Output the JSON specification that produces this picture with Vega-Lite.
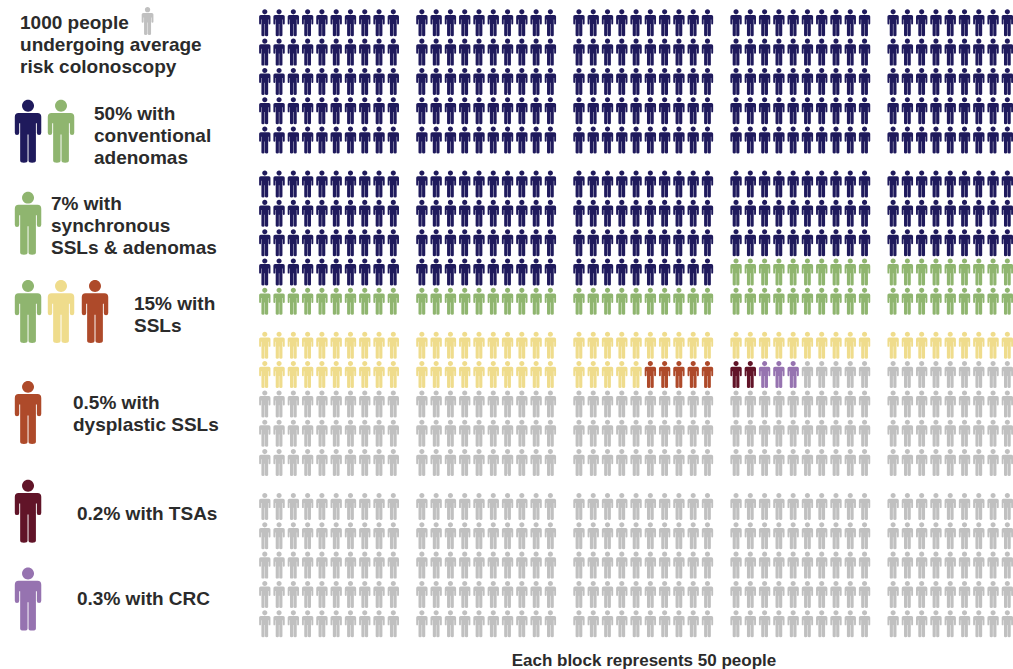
{"$schema":"https://vega.github.io/schema/vega-lite/v6.json","width":1013,"height":669,"autosize":{"type":"fit","contains":"padding"},"padding":0,"background":"#ffffff","config":{"view":{"stroke":null},"point":{"filled":true,"opacity":1,"strokeWidth":0,"shape":"M0 -1A0.19 0.19 0 1 1 0 -0.62A0.19 0.19 0 1 1 0 -1ZM-0.3 -0.58L0.3 -0.58Q0.42 -0.58 0.42 -0.46L0.42 0.05Q0.42 0.12 0.35 0.12Q0.28 0.12 0.28 0.05L0.28 -0.25L0.25 -0.25L0.25 0.93Q0.25 1 0.13 1Q0.015 1 0.015 0.93L0.015 0.1L-0.015 0.1L-0.015 0.93Q-0.015 1 -0.13 1Q-0.25 1 -0.25 0.93L-0.25 -0.25L-0.28 -0.25L-0.28 0.05Q-0.28 0.12 -0.35 0.12Q-0.42 0.12 -0.42 0.05L-0.42 -0.46Q-0.42 -0.58 -0.3 -0.58Z"}},"layer":[{"data":{"values":[
{"x":0,"y":0,"g":"adenoma"},{"x":1,"y":0,"g":"adenoma"},{"x":2,"y":0,"g":"adenoma"},{"x":3,"y":0,"g":"adenoma"},{"x":4,"y":0,"g":"adenoma"},{"x":5,"y":0,"g":"adenoma"},{"x":6,"y":0,"g":"adenoma"},{"x":7,"y":0,"g":"adenoma"},{"x":8,"y":0,"g":"adenoma"},{"x":9,"y":0,"g":"adenoma"},{"x":11,"y":0,"g":"adenoma"},{"x":12,"y":0,"g":"adenoma"},{"x":13,"y":0,"g":"adenoma"},{"x":14,"y":0,"g":"adenoma"},{"x":15,"y":0,"g":"adenoma"},{"x":16,"y":0,"g":"adenoma"},{"x":17,"y":0,"g":"adenoma"},{"x":18,"y":0,"g":"adenoma"},{"x":19,"y":0,"g":"adenoma"},{"x":20,"y":0,"g":"adenoma"},{"x":22,"y":0,"g":"adenoma"},{"x":23,"y":0,"g":"adenoma"},{"x":24,"y":0,"g":"adenoma"},{"x":25,"y":0,"g":"adenoma"},{"x":26,"y":0,"g":"adenoma"},{"x":27,"y":0,"g":"adenoma"},{"x":28,"y":0,"g":"adenoma"},{"x":29,"y":0,"g":"adenoma"},{"x":30,"y":0,"g":"adenoma"},{"x":31,"y":0,"g":"adenoma"},{"x":33,"y":0,"g":"adenoma"},{"x":34,"y":0,"g":"adenoma"},{"x":35,"y":0,"g":"adenoma"},{"x":36,"y":0,"g":"adenoma"},{"x":37,"y":0,"g":"adenoma"},{"x":38,"y":0,"g":"adenoma"},{"x":39,"y":0,"g":"adenoma"},{"x":40,"y":0,"g":"adenoma"},{"x":41,"y":0,"g":"adenoma"},{"x":42,"y":0,"g":"adenoma"},{"x":44,"y":0,"g":"adenoma"},{"x":45,"y":0,"g":"adenoma"},{"x":46,"y":0,"g":"adenoma"},{"x":47,"y":0,"g":"adenoma"},{"x":48,"y":0,"g":"adenoma"},{"x":49,"y":0,"g":"adenoma"},{"x":50,"y":0,"g":"adenoma"},{"x":51,"y":0,"g":"adenoma"},{"x":52,"y":0,"g":"adenoma"},{"x":53,"y":0,"g":"adenoma"},
{"x":0,"y":2,"g":"adenoma"},{"x":1,"y":2,"g":"adenoma"},{"x":2,"y":2,"g":"adenoma"},{"x":3,"y":2,"g":"adenoma"},{"x":4,"y":2,"g":"adenoma"},{"x":5,"y":2,"g":"adenoma"},{"x":6,"y":2,"g":"adenoma"},{"x":7,"y":2,"g":"adenoma"},{"x":8,"y":2,"g":"adenoma"},{"x":9,"y":2,"g":"adenoma"},{"x":11,"y":2,"g":"adenoma"},{"x":12,"y":2,"g":"adenoma"},{"x":13,"y":2,"g":"adenoma"},{"x":14,"y":2,"g":"adenoma"},{"x":15,"y":2,"g":"adenoma"},{"x":16,"y":2,"g":"adenoma"},{"x":17,"y":2,"g":"adenoma"},{"x":18,"y":2,"g":"adenoma"},{"x":19,"y":2,"g":"adenoma"},{"x":20,"y":2,"g":"adenoma"},{"x":22,"y":2,"g":"adenoma"},{"x":23,"y":2,"g":"adenoma"},{"x":24,"y":2,"g":"adenoma"},{"x":25,"y":2,"g":"adenoma"},{"x":26,"y":2,"g":"adenoma"},{"x":27,"y":2,"g":"adenoma"},{"x":28,"y":2,"g":"adenoma"},{"x":29,"y":2,"g":"adenoma"},{"x":30,"y":2,"g":"adenoma"},{"x":31,"y":2,"g":"adenoma"},{"x":33,"y":2,"g":"adenoma"},{"x":34,"y":2,"g":"adenoma"},{"x":35,"y":2,"g":"adenoma"},{"x":36,"y":2,"g":"adenoma"},{"x":37,"y":2,"g":"adenoma"},{"x":38,"y":2,"g":"adenoma"},{"x":39,"y":2,"g":"adenoma"},{"x":40,"y":2,"g":"adenoma"},{"x":41,"y":2,"g":"adenoma"},{"x":42,"y":2,"g":"adenoma"},{"x":44,"y":2,"g":"adenoma"},{"x":45,"y":2,"g":"adenoma"},{"x":46,"y":2,"g":"adenoma"},{"x":47,"y":2,"g":"adenoma"},{"x":48,"y":2,"g":"adenoma"},{"x":49,"y":2,"g":"adenoma"},{"x":50,"y":2,"g":"adenoma"},{"x":51,"y":2,"g":"adenoma"},{"x":52,"y":2,"g":"adenoma"},{"x":53,"y":2,"g":"adenoma"},
{"x":0,"y":4,"g":"adenoma"},{"x":1,"y":4,"g":"adenoma"},{"x":2,"y":4,"g":"adenoma"},{"x":3,"y":4,"g":"adenoma"},{"x":4,"y":4,"g":"adenoma"},{"x":5,"y":4,"g":"adenoma"},{"x":6,"y":4,"g":"adenoma"},{"x":7,"y":4,"g":"adenoma"},{"x":8,"y":4,"g":"adenoma"},{"x":9,"y":4,"g":"adenoma"},{"x":11,"y":4,"g":"adenoma"},{"x":12,"y":4,"g":"adenoma"},{"x":13,"y":4,"g":"adenoma"},{"x":14,"y":4,"g":"adenoma"},{"x":15,"y":4,"g":"adenoma"},{"x":16,"y":4,"g":"adenoma"},{"x":17,"y":4,"g":"adenoma"},{"x":18,"y":4,"g":"adenoma"},{"x":19,"y":4,"g":"adenoma"},{"x":20,"y":4,"g":"adenoma"},{"x":22,"y":4,"g":"adenoma"},{"x":23,"y":4,"g":"adenoma"},{"x":24,"y":4,"g":"adenoma"},{"x":25,"y":4,"g":"adenoma"},{"x":26,"y":4,"g":"adenoma"},{"x":27,"y":4,"g":"adenoma"},{"x":28,"y":4,"g":"adenoma"},{"x":29,"y":4,"g":"adenoma"},{"x":30,"y":4,"g":"adenoma"},{"x":31,"y":4,"g":"adenoma"},{"x":33,"y":4,"g":"adenoma"},{"x":34,"y":4,"g":"adenoma"},{"x":35,"y":4,"g":"adenoma"},{"x":36,"y":4,"g":"adenoma"},{"x":37,"y":4,"g":"adenoma"},{"x":38,"y":4,"g":"adenoma"},{"x":39,"y":4,"g":"adenoma"},{"x":40,"y":4,"g":"adenoma"},{"x":41,"y":4,"g":"adenoma"},{"x":42,"y":4,"g":"adenoma"},{"x":44,"y":4,"g":"adenoma"},{"x":45,"y":4,"g":"adenoma"},{"x":46,"y":4,"g":"adenoma"},{"x":47,"y":4,"g":"adenoma"},{"x":48,"y":4,"g":"adenoma"},{"x":49,"y":4,"g":"adenoma"},{"x":50,"y":4,"g":"adenoma"},{"x":51,"y":4,"g":"adenoma"},{"x":52,"y":4,"g":"adenoma"},{"x":53,"y":4,"g":"adenoma"},
{"x":0,"y":6,"g":"adenoma"},{"x":1,"y":6,"g":"adenoma"},{"x":2,"y":6,"g":"adenoma"},{"x":3,"y":6,"g":"adenoma"},{"x":4,"y":6,"g":"adenoma"},{"x":5,"y":6,"g":"adenoma"},{"x":6,"y":6,"g":"adenoma"},{"x":7,"y":6,"g":"adenoma"},{"x":8,"y":6,"g":"adenoma"},{"x":9,"y":6,"g":"adenoma"},{"x":11,"y":6,"g":"adenoma"},{"x":12,"y":6,"g":"adenoma"},{"x":13,"y":6,"g":"adenoma"},{"x":14,"y":6,"g":"adenoma"},{"x":15,"y":6,"g":"adenoma"},{"x":16,"y":6,"g":"adenoma"},{"x":17,"y":6,"g":"adenoma"},{"x":18,"y":6,"g":"adenoma"},{"x":19,"y":6,"g":"adenoma"},{"x":20,"y":6,"g":"adenoma"},{"x":22,"y":6,"g":"adenoma"},{"x":23,"y":6,"g":"adenoma"},{"x":24,"y":6,"g":"adenoma"},{"x":25,"y":6,"g":"adenoma"},{"x":26,"y":6,"g":"adenoma"},{"x":27,"y":6,"g":"adenoma"},{"x":28,"y":6,"g":"adenoma"},{"x":29,"y":6,"g":"adenoma"},{"x":30,"y":6,"g":"adenoma"},{"x":31,"y":6,"g":"adenoma"},{"x":33,"y":6,"g":"adenoma"},{"x":34,"y":6,"g":"adenoma"},{"x":35,"y":6,"g":"adenoma"},{"x":36,"y":6,"g":"adenoma"},{"x":37,"y":6,"g":"adenoma"},{"x":38,"y":6,"g":"adenoma"},{"x":39,"y":6,"g":"adenoma"},{"x":40,"y":6,"g":"adenoma"},{"x":41,"y":6,"g":"adenoma"},{"x":42,"y":6,"g":"adenoma"},{"x":44,"y":6,"g":"adenoma"},{"x":45,"y":6,"g":"adenoma"},{"x":46,"y":6,"g":"adenoma"},{"x":47,"y":6,"g":"adenoma"},{"x":48,"y":6,"g":"adenoma"},{"x":49,"y":6,"g":"adenoma"},{"x":50,"y":6,"g":"adenoma"},{"x":51,"y":6,"g":"adenoma"},{"x":52,"y":6,"g":"adenoma"},{"x":53,"y":6,"g":"adenoma"},
{"x":0,"y":8,"g":"adenoma"},{"x":1,"y":8,"g":"adenoma"},{"x":2,"y":8,"g":"adenoma"},{"x":3,"y":8,"g":"adenoma"},{"x":4,"y":8,"g":"adenoma"},{"x":5,"y":8,"g":"adenoma"},{"x":6,"y":8,"g":"adenoma"},{"x":7,"y":8,"g":"adenoma"},{"x":8,"y":8,"g":"adenoma"},{"x":9,"y":8,"g":"adenoma"},{"x":11,"y":8,"g":"adenoma"},{"x":12,"y":8,"g":"adenoma"},{"x":13,"y":8,"g":"adenoma"},{"x":14,"y":8,"g":"adenoma"},{"x":15,"y":8,"g":"adenoma"},{"x":16,"y":8,"g":"adenoma"},{"x":17,"y":8,"g":"adenoma"},{"x":18,"y":8,"g":"adenoma"},{"x":19,"y":8,"g":"adenoma"},{"x":20,"y":8,"g":"adenoma"},{"x":22,"y":8,"g":"adenoma"},{"x":23,"y":8,"g":"adenoma"},{"x":24,"y":8,"g":"adenoma"},{"x":25,"y":8,"g":"adenoma"},{"x":26,"y":8,"g":"adenoma"},{"x":27,"y":8,"g":"adenoma"},{"x":28,"y":8,"g":"adenoma"},{"x":29,"y":8,"g":"adenoma"},{"x":30,"y":8,"g":"adenoma"},{"x":31,"y":8,"g":"adenoma"},{"x":33,"y":8,"g":"adenoma"},{"x":34,"y":8,"g":"adenoma"},{"x":35,"y":8,"g":"adenoma"},{"x":36,"y":8,"g":"adenoma"},{"x":37,"y":8,"g":"adenoma"},{"x":38,"y":8,"g":"adenoma"},{"x":39,"y":8,"g":"adenoma"},{"x":40,"y":8,"g":"adenoma"},{"x":41,"y":8,"g":"adenoma"},{"x":42,"y":8,"g":"adenoma"},{"x":44,"y":8,"g":"adenoma"},{"x":45,"y":8,"g":"adenoma"},{"x":46,"y":8,"g":"adenoma"},{"x":47,"y":8,"g":"adenoma"},{"x":48,"y":8,"g":"adenoma"},{"x":49,"y":8,"g":"adenoma"},{"x":50,"y":8,"g":"adenoma"},{"x":51,"y":8,"g":"adenoma"},{"x":52,"y":8,"g":"adenoma"},{"x":53,"y":8,"g":"adenoma"},
{"x":0,"y":11,"g":"adenoma"},{"x":1,"y":11,"g":"adenoma"},{"x":2,"y":11,"g":"adenoma"},{"x":3,"y":11,"g":"adenoma"},{"x":4,"y":11,"g":"adenoma"},{"x":5,"y":11,"g":"adenoma"},{"x":6,"y":11,"g":"adenoma"},{"x":7,"y":11,"g":"adenoma"},{"x":8,"y":11,"g":"adenoma"},{"x":9,"y":11,"g":"adenoma"},{"x":11,"y":11,"g":"adenoma"},{"x":12,"y":11,"g":"adenoma"},{"x":13,"y":11,"g":"adenoma"},{"x":14,"y":11,"g":"adenoma"},{"x":15,"y":11,"g":"adenoma"},{"x":16,"y":11,"g":"adenoma"},{"x":17,"y":11,"g":"adenoma"},{"x":18,"y":11,"g":"adenoma"},{"x":19,"y":11,"g":"adenoma"},{"x":20,"y":11,"g":"adenoma"},{"x":22,"y":11,"g":"adenoma"},{"x":23,"y":11,"g":"adenoma"},{"x":24,"y":11,"g":"adenoma"},{"x":25,"y":11,"g":"adenoma"},{"x":26,"y":11,"g":"adenoma"},{"x":27,"y":11,"g":"adenoma"},{"x":28,"y":11,"g":"adenoma"},{"x":29,"y":11,"g":"adenoma"},{"x":30,"y":11,"g":"adenoma"},{"x":31,"y":11,"g":"adenoma"},{"x":33,"y":11,"g":"adenoma"},{"x":34,"y":11,"g":"adenoma"},{"x":35,"y":11,"g":"adenoma"},{"x":36,"y":11,"g":"adenoma"},{"x":37,"y":11,"g":"adenoma"},{"x":38,"y":11,"g":"adenoma"},{"x":39,"y":11,"g":"adenoma"},{"x":40,"y":11,"g":"adenoma"},{"x":41,"y":11,"g":"adenoma"},{"x":42,"y":11,"g":"adenoma"},{"x":44,"y":11,"g":"adenoma"},{"x":45,"y":11,"g":"adenoma"},{"x":46,"y":11,"g":"adenoma"},{"x":47,"y":11,"g":"adenoma"},{"x":48,"y":11,"g":"adenoma"},{"x":49,"y":11,"g":"adenoma"},{"x":50,"y":11,"g":"adenoma"},{"x":51,"y":11,"g":"adenoma"},{"x":52,"y":11,"g":"adenoma"},{"x":53,"y":11,"g":"adenoma"},
{"x":0,"y":13,"g":"adenoma"},{"x":1,"y":13,"g":"adenoma"},{"x":2,"y":13,"g":"adenoma"},{"x":3,"y":13,"g":"adenoma"},{"x":4,"y":13,"g":"adenoma"},{"x":5,"y":13,"g":"adenoma"},{"x":6,"y":13,"g":"adenoma"},{"x":7,"y":13,"g":"adenoma"},{"x":8,"y":13,"g":"adenoma"},{"x":9,"y":13,"g":"adenoma"},{"x":11,"y":13,"g":"adenoma"},{"x":12,"y":13,"g":"adenoma"},{"x":13,"y":13,"g":"adenoma"},{"x":14,"y":13,"g":"adenoma"},{"x":15,"y":13,"g":"adenoma"},{"x":16,"y":13,"g":"adenoma"},{"x":17,"y":13,"g":"adenoma"},{"x":18,"y":13,"g":"adenoma"},{"x":19,"y":13,"g":"adenoma"},{"x":20,"y":13,"g":"adenoma"},{"x":22,"y":13,"g":"adenoma"},{"x":23,"y":13,"g":"adenoma"},{"x":24,"y":13,"g":"adenoma"},{"x":25,"y":13,"g":"adenoma"},{"x":26,"y":13,"g":"adenoma"},{"x":27,"y":13,"g":"adenoma"},{"x":28,"y":13,"g":"adenoma"},{"x":29,"y":13,"g":"adenoma"},{"x":30,"y":13,"g":"adenoma"},{"x":31,"y":13,"g":"adenoma"},{"x":33,"y":13,"g":"adenoma"},{"x":34,"y":13,"g":"adenoma"},{"x":35,"y":13,"g":"adenoma"},{"x":36,"y":13,"g":"adenoma"},{"x":37,"y":13,"g":"adenoma"},{"x":38,"y":13,"g":"adenoma"},{"x":39,"y":13,"g":"adenoma"},{"x":40,"y":13,"g":"adenoma"},{"x":41,"y":13,"g":"adenoma"},{"x":42,"y":13,"g":"adenoma"},{"x":44,"y":13,"g":"adenoma"},{"x":45,"y":13,"g":"adenoma"},{"x":46,"y":13,"g":"adenoma"},{"x":47,"y":13,"g":"adenoma"},{"x":48,"y":13,"g":"adenoma"},{"x":49,"y":13,"g":"adenoma"},{"x":50,"y":13,"g":"adenoma"},{"x":51,"y":13,"g":"adenoma"},{"x":52,"y":13,"g":"adenoma"},{"x":53,"y":13,"g":"adenoma"},
{"x":0,"y":15,"g":"adenoma"},{"x":1,"y":15,"g":"adenoma"},{"x":2,"y":15,"g":"adenoma"},{"x":3,"y":15,"g":"adenoma"},{"x":4,"y":15,"g":"adenoma"},{"x":5,"y":15,"g":"adenoma"},{"x":6,"y":15,"g":"adenoma"},{"x":7,"y":15,"g":"adenoma"},{"x":8,"y":15,"g":"adenoma"},{"x":9,"y":15,"g":"adenoma"},{"x":11,"y":15,"g":"adenoma"},{"x":12,"y":15,"g":"adenoma"},{"x":13,"y":15,"g":"adenoma"},{"x":14,"y":15,"g":"adenoma"},{"x":15,"y":15,"g":"adenoma"},{"x":16,"y":15,"g":"adenoma"},{"x":17,"y":15,"g":"adenoma"},{"x":18,"y":15,"g":"adenoma"},{"x":19,"y":15,"g":"adenoma"},{"x":20,"y":15,"g":"adenoma"},{"x":22,"y":15,"g":"adenoma"},{"x":23,"y":15,"g":"adenoma"},{"x":24,"y":15,"g":"adenoma"},{"x":25,"y":15,"g":"adenoma"},{"x":26,"y":15,"g":"adenoma"},{"x":27,"y":15,"g":"adenoma"},{"x":28,"y":15,"g":"adenoma"},{"x":29,"y":15,"g":"adenoma"},{"x":30,"y":15,"g":"adenoma"},{"x":31,"y":15,"g":"adenoma"},{"x":33,"y":15,"g":"adenoma"},{"x":34,"y":15,"g":"adenoma"},{"x":35,"y":15,"g":"adenoma"},{"x":36,"y":15,"g":"adenoma"},{"x":37,"y":15,"g":"adenoma"},{"x":38,"y":15,"g":"adenoma"},{"x":39,"y":15,"g":"adenoma"},{"x":40,"y":15,"g":"adenoma"},{"x":41,"y":15,"g":"adenoma"},{"x":42,"y":15,"g":"adenoma"},{"x":44,"y":15,"g":"adenoma"},{"x":45,"y":15,"g":"adenoma"},{"x":46,"y":15,"g":"adenoma"},{"x":47,"y":15,"g":"adenoma"},{"x":48,"y":15,"g":"adenoma"},{"x":49,"y":15,"g":"adenoma"},{"x":50,"y":15,"g":"adenoma"},{"x":51,"y":15,"g":"adenoma"},{"x":52,"y":15,"g":"adenoma"},{"x":53,"y":15,"g":"adenoma"},
{"x":0,"y":17,"g":"adenoma"},{"x":1,"y":17,"g":"adenoma"},{"x":2,"y":17,"g":"adenoma"},{"x":3,"y":17,"g":"adenoma"},{"x":4,"y":17,"g":"adenoma"},{"x":5,"y":17,"g":"adenoma"},{"x":6,"y":17,"g":"adenoma"},{"x":7,"y":17,"g":"adenoma"},{"x":8,"y":17,"g":"adenoma"},{"x":9,"y":17,"g":"adenoma"},{"x":11,"y":17,"g":"adenoma"},{"x":12,"y":17,"g":"adenoma"},{"x":13,"y":17,"g":"adenoma"},{"x":14,"y":17,"g":"adenoma"},{"x":15,"y":17,"g":"adenoma"},{"x":16,"y":17,"g":"adenoma"},{"x":17,"y":17,"g":"adenoma"},{"x":18,"y":17,"g":"adenoma"},{"x":19,"y":17,"g":"adenoma"},{"x":20,"y":17,"g":"adenoma"},{"x":22,"y":17,"g":"adenoma"},{"x":23,"y":17,"g":"adenoma"},{"x":24,"y":17,"g":"adenoma"},{"x":25,"y":17,"g":"adenoma"},{"x":26,"y":17,"g":"adenoma"},{"x":27,"y":17,"g":"adenoma"},{"x":28,"y":17,"g":"adenoma"},{"x":29,"y":17,"g":"adenoma"},{"x":30,"y":17,"g":"adenoma"},{"x":31,"y":17,"g":"adenoma"},{"x":33,"y":17,"g":"sync"},{"x":34,"y":17,"g":"sync"},{"x":35,"y":17,"g":"sync"},{"x":36,"y":17,"g":"sync"},{"x":37,"y":17,"g":"sync"},{"x":38,"y":17,"g":"sync"},{"x":39,"y":17,"g":"sync"},{"x":40,"y":17,"g":"sync"},{"x":41,"y":17,"g":"sync"},{"x":42,"y":17,"g":"sync"},{"x":44,"y":17,"g":"sync"},{"x":45,"y":17,"g":"sync"},{"x":46,"y":17,"g":"sync"},{"x":47,"y":17,"g":"sync"},{"x":48,"y":17,"g":"sync"},{"x":49,"y":17,"g":"sync"},{"x":50,"y":17,"g":"sync"},{"x":51,"y":17,"g":"sync"},{"x":52,"y":17,"g":"sync"},{"x":53,"y":17,"g":"sync"},
{"x":0,"y":19,"g":"sync"},{"x":1,"y":19,"g":"sync"},{"x":2,"y":19,"g":"sync"},{"x":3,"y":19,"g":"sync"},{"x":4,"y":19,"g":"sync"},{"x":5,"y":19,"g":"sync"},{"x":6,"y":19,"g":"sync"},{"x":7,"y":19,"g":"sync"},{"x":8,"y":19,"g":"sync"},{"x":9,"y":19,"g":"sync"},{"x":11,"y":19,"g":"sync"},{"x":12,"y":19,"g":"sync"},{"x":13,"y":19,"g":"sync"},{"x":14,"y":19,"g":"sync"},{"x":15,"y":19,"g":"sync"},{"x":16,"y":19,"g":"sync"},{"x":17,"y":19,"g":"sync"},{"x":18,"y":19,"g":"sync"},{"x":19,"y":19,"g":"sync"},{"x":20,"y":19,"g":"sync"},{"x":22,"y":19,"g":"sync"},{"x":23,"y":19,"g":"sync"},{"x":24,"y":19,"g":"sync"},{"x":25,"y":19,"g":"sync"},{"x":26,"y":19,"g":"sync"},{"x":27,"y":19,"g":"sync"},{"x":28,"y":19,"g":"sync"},{"x":29,"y":19,"g":"sync"},{"x":30,"y":19,"g":"sync"},{"x":31,"y":19,"g":"sync"},{"x":33,"y":19,"g":"sync"},{"x":34,"y":19,"g":"sync"},{"x":35,"y":19,"g":"sync"},{"x":36,"y":19,"g":"sync"},{"x":37,"y":19,"g":"sync"},{"x":38,"y":19,"g":"sync"},{"x":39,"y":19,"g":"sync"},{"x":40,"y":19,"g":"sync"},{"x":41,"y":19,"g":"sync"},{"x":42,"y":19,"g":"sync"},{"x":44,"y":19,"g":"sync"},{"x":45,"y":19,"g":"sync"},{"x":46,"y":19,"g":"sync"},{"x":47,"y":19,"g":"sync"},{"x":48,"y":19,"g":"sync"},{"x":49,"y":19,"g":"sync"},{"x":50,"y":19,"g":"sync"},{"x":51,"y":19,"g":"sync"},{"x":52,"y":19,"g":"sync"},{"x":53,"y":19,"g":"sync"},
{"x":0,"y":22,"g":"ssl"},{"x":1,"y":22,"g":"ssl"},{"x":2,"y":22,"g":"ssl"},{"x":3,"y":22,"g":"ssl"},{"x":4,"y":22,"g":"ssl"},{"x":5,"y":22,"g":"ssl"},{"x":6,"y":22,"g":"ssl"},{"x":7,"y":22,"g":"ssl"},{"x":8,"y":22,"g":"ssl"},{"x":9,"y":22,"g":"ssl"},{"x":11,"y":22,"g":"ssl"},{"x":12,"y":22,"g":"ssl"},{"x":13,"y":22,"g":"ssl"},{"x":14,"y":22,"g":"ssl"},{"x":15,"y":22,"g":"ssl"},{"x":16,"y":22,"g":"ssl"},{"x":17,"y":22,"g":"ssl"},{"x":18,"y":22,"g":"ssl"},{"x":19,"y":22,"g":"ssl"},{"x":20,"y":22,"g":"ssl"},{"x":22,"y":22,"g":"ssl"},{"x":23,"y":22,"g":"ssl"},{"x":24,"y":22,"g":"ssl"},{"x":25,"y":22,"g":"ssl"},{"x":26,"y":22,"g":"ssl"},{"x":27,"y":22,"g":"ssl"},{"x":28,"y":22,"g":"ssl"},{"x":29,"y":22,"g":"ssl"},{"x":30,"y":22,"g":"ssl"},{"x":31,"y":22,"g":"ssl"},{"x":33,"y":22,"g":"ssl"},{"x":34,"y":22,"g":"ssl"},{"x":35,"y":22,"g":"ssl"},{"x":36,"y":22,"g":"ssl"},{"x":37,"y":22,"g":"ssl"},{"x":38,"y":22,"g":"ssl"},{"x":39,"y":22,"g":"ssl"},{"x":40,"y":22,"g":"ssl"},{"x":41,"y":22,"g":"ssl"},{"x":42,"y":22,"g":"ssl"},{"x":44,"y":22,"g":"ssl"},{"x":45,"y":22,"g":"ssl"},{"x":46,"y":22,"g":"ssl"},{"x":47,"y":22,"g":"ssl"},{"x":48,"y":22,"g":"ssl"},{"x":49,"y":22,"g":"ssl"},{"x":50,"y":22,"g":"ssl"},{"x":51,"y":22,"g":"ssl"},{"x":52,"y":22,"g":"ssl"},{"x":53,"y":22,"g":"ssl"},
{"x":0,"y":24,"g":"ssl"},{"x":1,"y":24,"g":"ssl"},{"x":2,"y":24,"g":"ssl"},{"x":3,"y":24,"g":"ssl"},{"x":4,"y":24,"g":"ssl"},{"x":5,"y":24,"g":"ssl"},{"x":6,"y":24,"g":"ssl"},{"x":7,"y":24,"g":"ssl"},{"x":8,"y":24,"g":"ssl"},{"x":9,"y":24,"g":"ssl"},{"x":11,"y":24,"g":"ssl"},{"x":12,"y":24,"g":"ssl"},{"x":13,"y":24,"g":"ssl"},{"x":14,"y":24,"g":"ssl"},{"x":15,"y":24,"g":"ssl"},{"x":16,"y":24,"g":"ssl"},{"x":17,"y":24,"g":"ssl"},{"x":18,"y":24,"g":"ssl"},{"x":19,"y":24,"g":"ssl"},{"x":20,"y":24,"g":"ssl"},{"x":22,"y":24,"g":"ssl"},{"x":23,"y":24,"g":"ssl"},{"x":24,"y":24,"g":"ssl"},{"x":25,"y":24,"g":"ssl"},{"x":26,"y":24,"g":"ssl"},{"x":27,"y":24,"g":"dysplastic"},{"x":28,"y":24,"g":"dysplastic"},{"x":29,"y":24,"g":"dysplastic"},{"x":30,"y":24,"g":"dysplastic"},{"x":31,"y":24,"g":"dysplastic"},{"x":33,"y":24,"g":"tsa"},{"x":34,"y":24,"g":"tsa"},{"x":35,"y":24,"g":"crc"},{"x":36,"y":24,"g":"crc"},{"x":37,"y":24,"g":"crc"},{"x":38,"y":24,"g":"none"},{"x":39,"y":24,"g":"none"},{"x":40,"y":24,"g":"none"},{"x":41,"y":24,"g":"none"},{"x":42,"y":24,"g":"none"},{"x":44,"y":24,"g":"none"},{"x":45,"y":24,"g":"none"},{"x":46,"y":24,"g":"none"},{"x":47,"y":24,"g":"none"},{"x":48,"y":24,"g":"none"},{"x":49,"y":24,"g":"none"},{"x":50,"y":24,"g":"none"},{"x":51,"y":24,"g":"none"},{"x":52,"y":24,"g":"none"},{"x":53,"y":24,"g":"none"},
{"x":0,"y":26,"g":"none"},{"x":1,"y":26,"g":"none"},{"x":2,"y":26,"g":"none"},{"x":3,"y":26,"g":"none"},{"x":4,"y":26,"g":"none"},{"x":5,"y":26,"g":"none"},{"x":6,"y":26,"g":"none"},{"x":7,"y":26,"g":"none"},{"x":8,"y":26,"g":"none"},{"x":9,"y":26,"g":"none"},{"x":11,"y":26,"g":"none"},{"x":12,"y":26,"g":"none"},{"x":13,"y":26,"g":"none"},{"x":14,"y":26,"g":"none"},{"x":15,"y":26,"g":"none"},{"x":16,"y":26,"g":"none"},{"x":17,"y":26,"g":"none"},{"x":18,"y":26,"g":"none"},{"x":19,"y":26,"g":"none"},{"x":20,"y":26,"g":"none"},{"x":22,"y":26,"g":"none"},{"x":23,"y":26,"g":"none"},{"x":24,"y":26,"g":"none"},{"x":25,"y":26,"g":"none"},{"x":26,"y":26,"g":"none"},{"x":27,"y":26,"g":"none"},{"x":28,"y":26,"g":"none"},{"x":29,"y":26,"g":"none"},{"x":30,"y":26,"g":"none"},{"x":31,"y":26,"g":"none"},{"x":33,"y":26,"g":"none"},{"x":34,"y":26,"g":"none"},{"x":35,"y":26,"g":"none"},{"x":36,"y":26,"g":"none"},{"x":37,"y":26,"g":"none"},{"x":38,"y":26,"g":"none"},{"x":39,"y":26,"g":"none"},{"x":40,"y":26,"g":"none"},{"x":41,"y":26,"g":"none"},{"x":42,"y":26,"g":"none"},{"x":44,"y":26,"g":"none"},{"x":45,"y":26,"g":"none"},{"x":46,"y":26,"g":"none"},{"x":47,"y":26,"g":"none"},{"x":48,"y":26,"g":"none"},{"x":49,"y":26,"g":"none"},{"x":50,"y":26,"g":"none"},{"x":51,"y":26,"g":"none"},{"x":52,"y":26,"g":"none"},{"x":53,"y":26,"g":"none"},
{"x":0,"y":28,"g":"none"},{"x":1,"y":28,"g":"none"},{"x":2,"y":28,"g":"none"},{"x":3,"y":28,"g":"none"},{"x":4,"y":28,"g":"none"},{"x":5,"y":28,"g":"none"},{"x":6,"y":28,"g":"none"},{"x":7,"y":28,"g":"none"},{"x":8,"y":28,"g":"none"},{"x":9,"y":28,"g":"none"},{"x":11,"y":28,"g":"none"},{"x":12,"y":28,"g":"none"},{"x":13,"y":28,"g":"none"},{"x":14,"y":28,"g":"none"},{"x":15,"y":28,"g":"none"},{"x":16,"y":28,"g":"none"},{"x":17,"y":28,"g":"none"},{"x":18,"y":28,"g":"none"},{"x":19,"y":28,"g":"none"},{"x":20,"y":28,"g":"none"},{"x":22,"y":28,"g":"none"},{"x":23,"y":28,"g":"none"},{"x":24,"y":28,"g":"none"},{"x":25,"y":28,"g":"none"},{"x":26,"y":28,"g":"none"},{"x":27,"y":28,"g":"none"},{"x":28,"y":28,"g":"none"},{"x":29,"y":28,"g":"none"},{"x":30,"y":28,"g":"none"},{"x":31,"y":28,"g":"none"},{"x":33,"y":28,"g":"none"},{"x":34,"y":28,"g":"none"},{"x":35,"y":28,"g":"none"},{"x":36,"y":28,"g":"none"},{"x":37,"y":28,"g":"none"},{"x":38,"y":28,"g":"none"},{"x":39,"y":28,"g":"none"},{"x":40,"y":28,"g":"none"},{"x":41,"y":28,"g":"none"},{"x":42,"y":28,"g":"none"},{"x":44,"y":28,"g":"none"},{"x":45,"y":28,"g":"none"},{"x":46,"y":28,"g":"none"},{"x":47,"y":28,"g":"none"},{"x":48,"y":28,"g":"none"},{"x":49,"y":28,"g":"none"},{"x":50,"y":28,"g":"none"},{"x":51,"y":28,"g":"none"},{"x":52,"y":28,"g":"none"},{"x":53,"y":28,"g":"none"},
{"x":0,"y":30,"g":"none"},{"x":1,"y":30,"g":"none"},{"x":2,"y":30,"g":"none"},{"x":3,"y":30,"g":"none"},{"x":4,"y":30,"g":"none"},{"x":5,"y":30,"g":"none"},{"x":6,"y":30,"g":"none"},{"x":7,"y":30,"g":"none"},{"x":8,"y":30,"g":"none"},{"x":9,"y":30,"g":"none"},{"x":11,"y":30,"g":"none"},{"x":12,"y":30,"g":"none"},{"x":13,"y":30,"g":"none"},{"x":14,"y":30,"g":"none"},{"x":15,"y":30,"g":"none"},{"x":16,"y":30,"g":"none"},{"x":17,"y":30,"g":"none"},{"x":18,"y":30,"g":"none"},{"x":19,"y":30,"g":"none"},{"x":20,"y":30,"g":"none"},{"x":22,"y":30,"g":"none"},{"x":23,"y":30,"g":"none"},{"x":24,"y":30,"g":"none"},{"x":25,"y":30,"g":"none"},{"x":26,"y":30,"g":"none"},{"x":27,"y":30,"g":"none"},{"x":28,"y":30,"g":"none"},{"x":29,"y":30,"g":"none"},{"x":30,"y":30,"g":"none"},{"x":31,"y":30,"g":"none"},{"x":33,"y":30,"g":"none"},{"x":34,"y":30,"g":"none"},{"x":35,"y":30,"g":"none"},{"x":36,"y":30,"g":"none"},{"x":37,"y":30,"g":"none"},{"x":38,"y":30,"g":"none"},{"x":39,"y":30,"g":"none"},{"x":40,"y":30,"g":"none"},{"x":41,"y":30,"g":"none"},{"x":42,"y":30,"g":"none"},{"x":44,"y":30,"g":"none"},{"x":45,"y":30,"g":"none"},{"x":46,"y":30,"g":"none"},{"x":47,"y":30,"g":"none"},{"x":48,"y":30,"g":"none"},{"x":49,"y":30,"g":"none"},{"x":50,"y":30,"g":"none"},{"x":51,"y":30,"g":"none"},{"x":52,"y":30,"g":"none"},{"x":53,"y":30,"g":"none"},
{"x":0,"y":33,"g":"none"},{"x":1,"y":33,"g":"none"},{"x":2,"y":33,"g":"none"},{"x":3,"y":33,"g":"none"},{"x":4,"y":33,"g":"none"},{"x":5,"y":33,"g":"none"},{"x":6,"y":33,"g":"none"},{"x":7,"y":33,"g":"none"},{"x":8,"y":33,"g":"none"},{"x":9,"y":33,"g":"none"},{"x":11,"y":33,"g":"none"},{"x":12,"y":33,"g":"none"},{"x":13,"y":33,"g":"none"},{"x":14,"y":33,"g":"none"},{"x":15,"y":33,"g":"none"},{"x":16,"y":33,"g":"none"},{"x":17,"y":33,"g":"none"},{"x":18,"y":33,"g":"none"},{"x":19,"y":33,"g":"none"},{"x":20,"y":33,"g":"none"},{"x":22,"y":33,"g":"none"},{"x":23,"y":33,"g":"none"},{"x":24,"y":33,"g":"none"},{"x":25,"y":33,"g":"none"},{"x":26,"y":33,"g":"none"},{"x":27,"y":33,"g":"none"},{"x":28,"y":33,"g":"none"},{"x":29,"y":33,"g":"none"},{"x":30,"y":33,"g":"none"},{"x":31,"y":33,"g":"none"},{"x":33,"y":33,"g":"none"},{"x":34,"y":33,"g":"none"},{"x":35,"y":33,"g":"none"},{"x":36,"y":33,"g":"none"},{"x":37,"y":33,"g":"none"},{"x":38,"y":33,"g":"none"},{"x":39,"y":33,"g":"none"},{"x":40,"y":33,"g":"none"},{"x":41,"y":33,"g":"none"},{"x":42,"y":33,"g":"none"},{"x":44,"y":33,"g":"none"},{"x":45,"y":33,"g":"none"},{"x":46,"y":33,"g":"none"},{"x":47,"y":33,"g":"none"},{"x":48,"y":33,"g":"none"},{"x":49,"y":33,"g":"none"},{"x":50,"y":33,"g":"none"},{"x":51,"y":33,"g":"none"},{"x":52,"y":33,"g":"none"},{"x":53,"y":33,"g":"none"},
{"x":0,"y":35,"g":"none"},{"x":1,"y":35,"g":"none"},{"x":2,"y":35,"g":"none"},{"x":3,"y":35,"g":"none"},{"x":4,"y":35,"g":"none"},{"x":5,"y":35,"g":"none"},{"x":6,"y":35,"g":"none"},{"x":7,"y":35,"g":"none"},{"x":8,"y":35,"g":"none"},{"x":9,"y":35,"g":"none"},{"x":11,"y":35,"g":"none"},{"x":12,"y":35,"g":"none"},{"x":13,"y":35,"g":"none"},{"x":14,"y":35,"g":"none"},{"x":15,"y":35,"g":"none"},{"x":16,"y":35,"g":"none"},{"x":17,"y":35,"g":"none"},{"x":18,"y":35,"g":"none"},{"x":19,"y":35,"g":"none"},{"x":20,"y":35,"g":"none"},{"x":22,"y":35,"g":"none"},{"x":23,"y":35,"g":"none"},{"x":24,"y":35,"g":"none"},{"x":25,"y":35,"g":"none"},{"x":26,"y":35,"g":"none"},{"x":27,"y":35,"g":"none"},{"x":28,"y":35,"g":"none"},{"x":29,"y":35,"g":"none"},{"x":30,"y":35,"g":"none"},{"x":31,"y":35,"g":"none"},{"x":33,"y":35,"g":"none"},{"x":34,"y":35,"g":"none"},{"x":35,"y":35,"g":"none"},{"x":36,"y":35,"g":"none"},{"x":37,"y":35,"g":"none"},{"x":38,"y":35,"g":"none"},{"x":39,"y":35,"g":"none"},{"x":40,"y":35,"g":"none"},{"x":41,"y":35,"g":"none"},{"x":42,"y":35,"g":"none"},{"x":44,"y":35,"g":"none"},{"x":45,"y":35,"g":"none"},{"x":46,"y":35,"g":"none"},{"x":47,"y":35,"g":"none"},{"x":48,"y":35,"g":"none"},{"x":49,"y":35,"g":"none"},{"x":50,"y":35,"g":"none"},{"x":51,"y":35,"g":"none"},{"x":52,"y":35,"g":"none"},{"x":53,"y":35,"g":"none"},
{"x":0,"y":37,"g":"none"},{"x":1,"y":37,"g":"none"},{"x":2,"y":37,"g":"none"},{"x":3,"y":37,"g":"none"},{"x":4,"y":37,"g":"none"},{"x":5,"y":37,"g":"none"},{"x":6,"y":37,"g":"none"},{"x":7,"y":37,"g":"none"},{"x":8,"y":37,"g":"none"},{"x":9,"y":37,"g":"none"},{"x":11,"y":37,"g":"none"},{"x":12,"y":37,"g":"none"},{"x":13,"y":37,"g":"none"},{"x":14,"y":37,"g":"none"},{"x":15,"y":37,"g":"none"},{"x":16,"y":37,"g":"none"},{"x":17,"y":37,"g":"none"},{"x":18,"y":37,"g":"none"},{"x":19,"y":37,"g":"none"},{"x":20,"y":37,"g":"none"},{"x":22,"y":37,"g":"none"},{"x":23,"y":37,"g":"none"},{"x":24,"y":37,"g":"none"},{"x":25,"y":37,"g":"none"},{"x":26,"y":37,"g":"none"},{"x":27,"y":37,"g":"none"},{"x":28,"y":37,"g":"none"},{"x":29,"y":37,"g":"none"},{"x":30,"y":37,"g":"none"},{"x":31,"y":37,"g":"none"},{"x":33,"y":37,"g":"none"},{"x":34,"y":37,"g":"none"},{"x":35,"y":37,"g":"none"},{"x":36,"y":37,"g":"none"},{"x":37,"y":37,"g":"none"},{"x":38,"y":37,"g":"none"},{"x":39,"y":37,"g":"none"},{"x":40,"y":37,"g":"none"},{"x":41,"y":37,"g":"none"},{"x":42,"y":37,"g":"none"},{"x":44,"y":37,"g":"none"},{"x":45,"y":37,"g":"none"},{"x":46,"y":37,"g":"none"},{"x":47,"y":37,"g":"none"},{"x":48,"y":37,"g":"none"},{"x":49,"y":37,"g":"none"},{"x":50,"y":37,"g":"none"},{"x":51,"y":37,"g":"none"},{"x":52,"y":37,"g":"none"},{"x":53,"y":37,"g":"none"},
{"x":0,"y":39,"g":"none"},{"x":1,"y":39,"g":"none"},{"x":2,"y":39,"g":"none"},{"x":3,"y":39,"g":"none"},{"x":4,"y":39,"g":"none"},{"x":5,"y":39,"g":"none"},{"x":6,"y":39,"g":"none"},{"x":7,"y":39,"g":"none"},{"x":8,"y":39,"g":"none"},{"x":9,"y":39,"g":"none"},{"x":11,"y":39,"g":"none"},{"x":12,"y":39,"g":"none"},{"x":13,"y":39,"g":"none"},{"x":14,"y":39,"g":"none"},{"x":15,"y":39,"g":"none"},{"x":16,"y":39,"g":"none"},{"x":17,"y":39,"g":"none"},{"x":18,"y":39,"g":"none"},{"x":19,"y":39,"g":"none"},{"x":20,"y":39,"g":"none"},{"x":22,"y":39,"g":"none"},{"x":23,"y":39,"g":"none"},{"x":24,"y":39,"g":"none"},{"x":25,"y":39,"g":"none"},{"x":26,"y":39,"g":"none"},{"x":27,"y":39,"g":"none"},{"x":28,"y":39,"g":"none"},{"x":29,"y":39,"g":"none"},{"x":30,"y":39,"g":"none"},{"x":31,"y":39,"g":"none"},{"x":33,"y":39,"g":"none"},{"x":34,"y":39,"g":"none"},{"x":35,"y":39,"g":"none"},{"x":36,"y":39,"g":"none"},{"x":37,"y":39,"g":"none"},{"x":38,"y":39,"g":"none"},{"x":39,"y":39,"g":"none"},{"x":40,"y":39,"g":"none"},{"x":41,"y":39,"g":"none"},{"x":42,"y":39,"g":"none"},{"x":44,"y":39,"g":"none"},{"x":45,"y":39,"g":"none"},{"x":46,"y":39,"g":"none"},{"x":47,"y":39,"g":"none"},{"x":48,"y":39,"g":"none"},{"x":49,"y":39,"g":"none"},{"x":50,"y":39,"g":"none"},{"x":51,"y":39,"g":"none"},{"x":52,"y":39,"g":"none"},{"x":53,"y":39,"g":"none"},
{"x":0,"y":41,"g":"none"},{"x":1,"y":41,"g":"none"},{"x":2,"y":41,"g":"none"},{"x":3,"y":41,"g":"none"},{"x":4,"y":41,"g":"none"},{"x":5,"y":41,"g":"none"},{"x":6,"y":41,"g":"none"},{"x":7,"y":41,"g":"none"},{"x":8,"y":41,"g":"none"},{"x":9,"y":41,"g":"none"},{"x":11,"y":41,"g":"none"},{"x":12,"y":41,"g":"none"},{"x":13,"y":41,"g":"none"},{"x":14,"y":41,"g":"none"},{"x":15,"y":41,"g":"none"},{"x":16,"y":41,"g":"none"},{"x":17,"y":41,"g":"none"},{"x":18,"y":41,"g":"none"},{"x":19,"y":41,"g":"none"},{"x":20,"y":41,"g":"none"},{"x":22,"y":41,"g":"none"},{"x":23,"y":41,"g":"none"},{"x":24,"y":41,"g":"none"},{"x":25,"y":41,"g":"none"},{"x":26,"y":41,"g":"none"},{"x":27,"y":41,"g":"none"},{"x":28,"y":41,"g":"none"},{"x":29,"y":41,"g":"none"},{"x":30,"y":41,"g":"none"},{"x":31,"y":41,"g":"none"},{"x":33,"y":41,"g":"none"},{"x":34,"y":41,"g":"none"},{"x":35,"y":41,"g":"none"},{"x":36,"y":41,"g":"none"},{"x":37,"y":41,"g":"none"},{"x":38,"y":41,"g":"none"},{"x":39,"y":41,"g":"none"},{"x":40,"y":41,"g":"none"},{"x":41,"y":41,"g":"none"},{"x":42,"y":41,"g":"none"},{"x":44,"y":41,"g":"none"},{"x":45,"y":41,"g":"none"},{"x":46,"y":41,"g":"none"},{"x":47,"y":41,"g":"none"},{"x":48,"y":41,"g":"none"},{"x":49,"y":41,"g":"none"},{"x":50,"y":41,"g":"none"},{"x":51,"y":41,"g":"none"},{"x":52,"y":41,"g":"none"},{"x":53,"y":41,"g":"none"}
]},"mark":{"type":"point","size":729,"clip":true},"encoding":{"x":{"field":"x","type":"quantitative","axis":null,"scale":{"domain":[-18.543,52.395],"nice":false,"zero":false}},"y":{"field":"y","type":"quantitative","axis":null,"scale":{"domain":[44.019,-1.553],"nice":false,"zero":false}},"color":{"field":"g","type":"nominal","legend":null,"scale":{"domain":["adenoma","sync","ssl","dysplastic","tsa","crc","none"],"range":["#1f1a5c","#8fb56f","#efdc8c","#ae4a2a","#611428","#9673b0","#c0c0c0"]}}}},
{"data":{"values":[{"x":-16.58,"y":7.40,"g":"adenoma"},{"x":-14.27,"y":7.40,"g":"sync"},{"x":-16.58,"y":13.67,"g":"sync"},{"x":-16.58,"y":19.70,"g":"sync"},{"x":-14.27,"y":19.70,"g":"ssl"},{"x":-11.89,"y":19.70,"g":"dysplastic"},{"x":-16.58,"y":26.58,"g":"dysplastic"},{"x":-16.58,"y":33.33,"g":"tsa"},{"x":-16.58,"y":39.32,"g":"crc"}]},"mark":{"type":"point","size":3969},"encoding":{"x":{"field":"x","type":"quantitative"},"y":{"field":"y","type":"quantitative"},"color":{"field":"g","type":"nominal"}}},
{"data":{"values":[{"x":-8.21,"y":-0.12,"g":"none"}]},"mark":{"type":"point","size":784},"encoding":{"x":{"field":"x","type":"quantitative"},"y":{"field":"y","type":"quantitative"},"color":{"field":"g","type":"nominal"}}},
{"data":{"values":[{"x":-17.14,"y":0.05,"t":"1000 people\nundergoing average\nrisk colonoscopy"},{"x":-11.96,"y":6.24,"t":"50% with\nconventional\nadenomas"},{"x":-14.97,"y":12.38,"t":"7% with\nsynchronous\nSSLs & adenomas"},{"x":-9.16,"y":19.19,"t":"15% with\nSSLs"},{"x":-13.43,"y":25.93,"t":"0.5% with\ndysplastic SSLs"},{"x":-13.15,"y":33.49,"t":"0.2% with TSAs"},{"x":-13.15,"y":39.28,"t":"0.3% with CRC"}]},"mark":{"type":"text","align":"left","baseline":"middle","lineBreak":"\n","lineHeight":22,"font":"Liberation Sans","fontSize":19,"fontWeight":"bold","color":"#2b2b2b"},"encoding":{"x":{"field":"x","type":"quantitative"},"y":{"field":"y","type":"quantitative"},"text":{"field":"t"}}},
{"data":{"values":[{"x":26.55,"y":43.54,"t":"Each block represents 50 people"}]},"mark":{"type":"text","align":"center","baseline":"middle","font":"Liberation Sans","fontSize":17,"fontWeight":"bold","color":"#2b2b2b"},"encoding":{"x":{"field":"x","type":"quantitative"},"y":{"field":"y","type":"quantitative"},"text":{"field":"t"}}}
]}
